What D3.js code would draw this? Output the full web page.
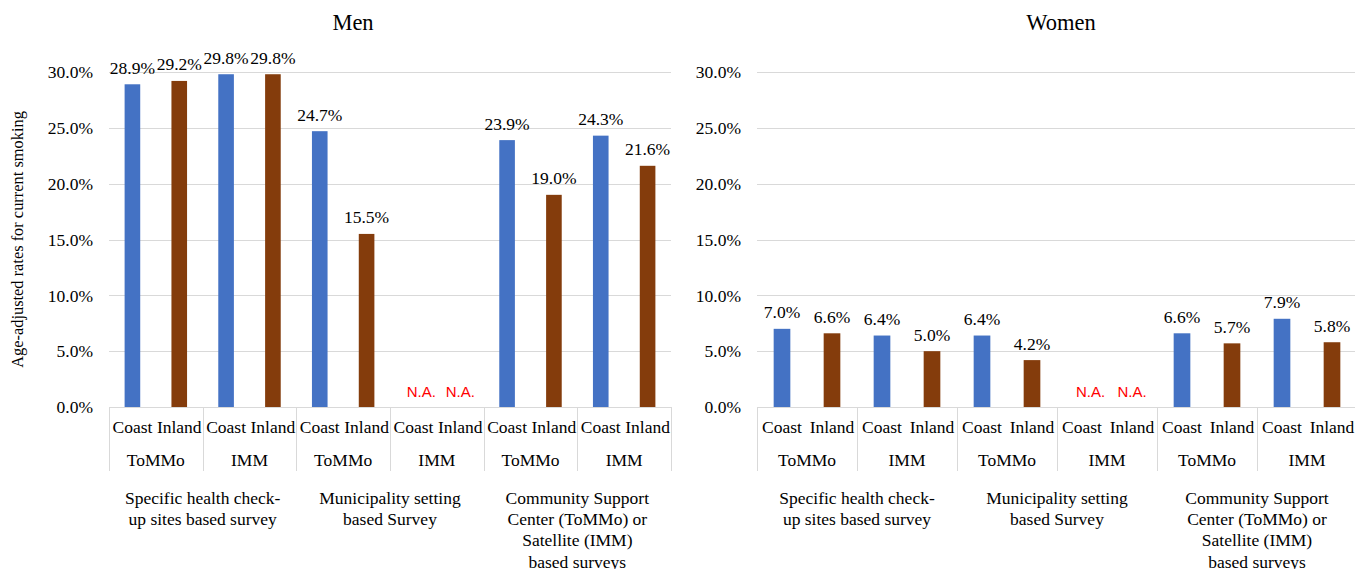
<!DOCTYPE html>
<html>
<head>
<meta charset="utf-8">
<script src="https://cdn.jsdelivr.net/npm/d3@7"></script>
<style>
  html, body { margin: 0; padding: 0; background: #fff; }
  svg { display: block; }
</style>
</head>
<body>
<svg id="chart" width="1355" height="569"></svg>
<script>
// ---- data ----
const areas = ["Coast", "Inland"];
const sources = ["ToMMo", "IMM", "ToMMo", "IMM", "ToMMo", "IMM"];
const groupLabels = [
  ["Specific health check-", "up sites based survey"],
  ["Municipality setting", "based Survey"],
  ["Community Support", "Center (ToMMo) or", "Satellite (IMM)", "based surveys"]
];
const menCoast   = [28.9, 29.8, 24.7, null, 23.9, 24.3];
const menInland  = [29.2, 29.8, 15.5, null, 19.0, 21.6];
const womenCoast  = [7.0, 6.4, 6.4, null, 6.6, 7.9];
const womenInland = [6.6, 5.0, 4.2, null, 5.7, 5.8];
const yTicks = [0, 5, 10, 15, 20, 25, 30];
const naLabel = "N.A.";
const yTitle = "Age-adjusted rates for current smoking";

const colors = { Coast: "#4472C4", Inland: "#843C0C" };
const gridColor = "#d9d9d9";
const SERIF = "'Liberation Serif', 'Times New Roman', serif";
const SANS = "'Liberation Sans', Arial, sans-serif";
const FS = 17.5;

const svg = d3.select("#chart").style("font-family", SERIF);

function txt(sel, size) {
  return sel.style("font-family", SERIF).style("font-size", size + "px").style("fill", "#000");
}

function panel(opts) {
  const { x0, x1, title, titleX, coast, inland, showYTitle } = opts;
  const yTop = 72, yBot = 407;
  const g = svg.append("g");

  const y = d3.scaleLinear().domain([0, 30]).range([yBot, yTop]);
  const outer = d3.scaleBand().domain(d3.range(sources.length)).range([x0, x1]).padding(0);
  const inner = d3.scaleBand().domain(areas).range([0, outer.bandwidth()]).padding(0);
  const barW = inner.bandwidth() / 3;

  // gridlines
  g.append("g").selectAll("line").data(yTicks).join("line")
    .attr("x1", x0).attr("x2", x1)
    .attr("y1", d => Math.round(y(d)) + 0.5).attr("y2", d => Math.round(y(d)) + 0.5)
    .attr("stroke", gridColor).attr("stroke-width", 1);

  // y axis tick labels
  const yAxis = d3.axisLeft(y).tickValues(yTicks).tickSize(0).tickPadding(0)
    .tickFormat(d => d.toFixed(1) + "%");
  const ya = g.append("g").attr("transform", `translate(${x0 - 16},0)`).call(yAxis);
  ya.attr("font-family", null).attr("font-size", null);
  ya.select(".domain").remove();
  txt(ya.selectAll("text"), FS).attr("dy", "0.33em");

  // bars
  const rows = [];
  sources.forEach((s, i) => {
    rows.push({ i, area: "Coast", v: coast[i] });
    rows.push({ i, area: "Inland", v: inland[i] });
  });
  const cx = d => outer(d.i) + inner(d.area) + inner.bandwidth() / 2;

  g.append("g").selectAll("rect").data(rows.filter(d => d.v != null)).join("rect")
    .attr("x", d => cx(d) - barW / 2)
    .attr("width", barW)
    .attr("y", d => y(d.v))
    .attr("height", d => y(0) - y(d.v))
    .attr("fill", d => colors[d.area]);

  // value labels
  txt(g.append("g").selectAll("text").data(rows.filter(d => d.v != null)).join("text"), FS)
    .attr("x", d => cx(d))
    .attr("y", d => y(d.v) - 10.5)
    .attr("text-anchor", "middle")
    .text(d => d.v.toFixed(1) + "%");

  // N.A. labels
  g.append("g").selectAll("text").data(rows.filter(d => d.v == null)).join("text")
    .attr("x", d => cx(d) + (d.area === "Coast" ? inner.bandwidth() * 0.17 : 0))
    .attr("y", 397)
    .attr("text-anchor", "middle")
    .style("font-family", SANS)
    .style("font-size", "15px")
    .style("fill", "#FF0000")
    .text(naLabel);

  // category dividers
  const bounds = sources.map((s, i) => outer(i)).concat([x1]);
  g.append("g").selectAll("line").data(bounds).join("line")
    .attr("x1", d => Math.round(d) + 0.5).attr("x2", d => Math.round(d) + 0.5)
    .attr("y1", yBot).attr("y2", 471)
    .attr("stroke", gridColor).attr("stroke-width", 1);

  // area labels (Coast / Inland)
  txt(g.append("g").selectAll("text").data(rows).join("text"), FS)
    .attr("x", d => cx(d))
    .attr("y", 433)
    .attr("text-anchor", "middle")
    .text(d => d.area);

  // source labels
  txt(g.append("g").selectAll("text").data(sources).join("text"), FS)
    .attr("x", (d, i) => outer(i) + outer.bandwidth() / 2)
    .attr("y", 466)
    .attr("text-anchor", "middle")
    .text(d => d);

  // group labels
  groupLabels.forEach((lines, gi) => {
    const gx = (outer(gi * 2) + outer(gi * 2 + 1) + outer.bandwidth()) / 2;
    const t = txt(g.append("text"), FS).attr("text-anchor", "middle");
    lines.forEach((ln, li) => {
      t.append("tspan").attr("x", gx).attr("y", 503.5 + li * 21.4).text(ln);
    });
  });

  // title
  txt(g.append("text"), 22.5).attr("x", titleX).attr("y", 30)
    .attr("text-anchor", "middle").text(title);

  if (showYTitle) {
    txt(g.append("text"), 16.4)
      .attr("transform", `translate(23,${(yTop + yBot) / 2}) rotate(-90)`)
      .attr("text-anchor", "middle")
      .text(yTitle);
  }
}

panel({ x0: 109, x1: 671, title: "Men", titleX: 353, coast: menCoast, inland: menInland, showYTitle: true });
panel({ x0: 757, x1: 1357, title: "Women", titleX: 1061, coast: womenCoast, inland: womenInland, showYTitle: false });
</script>
</body>
</html>
